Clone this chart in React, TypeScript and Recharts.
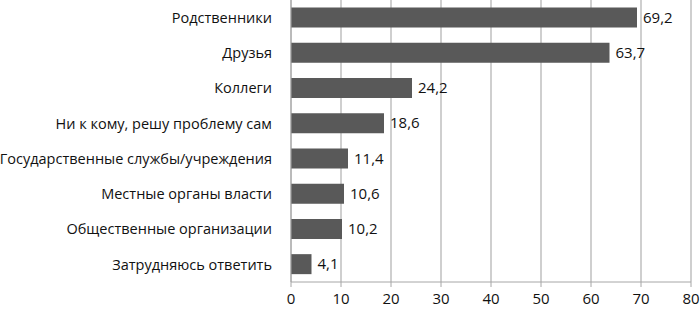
import { BarChart, Bar, XAxis, YAxis, CartesianGrid, LabelList } from 'recharts'

const categories = [
  'Родственники',
  'Друзья',
  'Коллеги',
  'Ни к кому, решу проблему сам',
  'Государственные службы/учреждения',
  'Местные органы власти',
  'Общественные организации',
  'Затрудняюсь ответить',
]
const values = [69.2, 63.7, 24.2, 18.6, 11.4, 10.6, 10.2, 4.1]
const xTicks = [0, 10, 20, 30, 40, 50, 60, 70, 80]

const data = categories.map((name, i) => ({ name, value: values[i] }))

const font = '"Open Sans", sans-serif'

export default function App() {
  return (
    <div style={{ position: 'absolute', left: 0, top: 0, width: 700, height: 309, background: '#fff' }}>
      <BarChart
        width={700}
        height={309}
        data={data}
        layout="vertical"
        margin={{ top: 0, right: 9, left: 0, bottom: 0 }}
        barCategoryGap="21%"
        style={{ fontFamily: font }}
      >
        <CartesianGrid horizontal={false} stroke="#bfbfbf" strokeWidth={1.5} />
        <XAxis
          type="number"
          domain={[0, 80]}
          ticks={xTicks}
          interval={0}
          height={27}
          stroke="#a6a6a6"
          tickSize={5}
          tickMargin={6}
          tick={{ fill: '#111', fontSize: 15 }}
          allowDataOverflow
        />
        <YAxis
          type="category"
          dataKey="name"
          width={291}
          stroke="#a6a6a6"
          tickLine={false}
          tickMargin={13}
          tick={{ fill: '#111', fontSize: 14.5 }}
          interval={0}
        />
        <Bar dataKey="value" fill="#595959" isAnimationActive={false}>
          <LabelList
            dataKey="value"
            position="right"
            offset={6}
            fill="#111"
            fontSize={15}
            formatter={(v: number) => v.toFixed(1).replace('.', ',')}
          />
        </Bar>
      </BarChart>
    </div>
  )
}
